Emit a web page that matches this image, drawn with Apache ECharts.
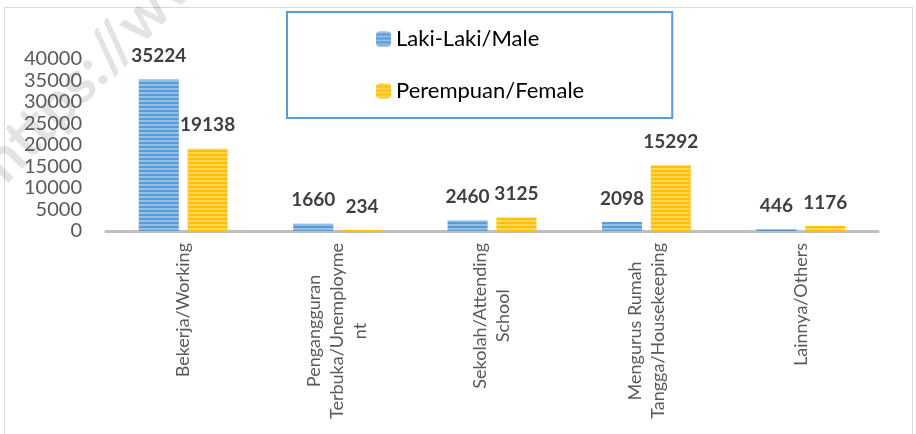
<!DOCTYPE html>
<html>
<head>
<meta charset="utf-8">
<script src="https://cdn.jsdelivr.net/npm/echarts@6/dist/echarts.min.js"></script>
<style>
  html,body{margin:0;padding:0;background:#fff;}
  #main{width:916px;height:434px;}
</style>
</head>
<body>
<div id="main"></div>
<script>
var categories = ['Bekerja/Working', 'Pengangguran\nTerbuka/Unemployme\nnt', 'Sekolah/Attending\nSchool', 'Mengurus Rumah\nTangga/Housekeeping', 'Lainnya/Others'];
var male = [35224, 1660, 2460, 2098, 446];
var female = [19138, 234, 3125, 15292, 1176];
var yTicks = [0, 5000, 10000, 15000, 20000, 25000, 30000, 35000, 40000];

var myChart = echarts.init(document.getElementById('main'));

var stripes = {
  symbol: 'rect',
  symbolSize: 1,
  dashArrayX: [[1, 0]],
  dashArrayY: [2, 1.6],
  color: 'rgba(255,255,255,0.35)'
};

var valueLabel = {
  show: true,
  position: 'top',
  distance: 14,
  fontFamily: 'Lato',
  fontWeight: 'bold',
  fontSize: 19,
  color: '#404040'
};

var option = {
  animation: false,
  textStyle: {fontFamily: 'Lato'},
  graphic: [
    {
      type: 'rect', z: -10,
      shape: {x: 4.5, y: 7.5, width: 908, height: 440},
      style: {fill: '#fff', stroke: '#D9D9D9', lineWidth: 1}
    },
    {
      type: 'text', z: -5, x: -8, y: 172, rotation: 0.8,
      style: {text: 'https://www', fontFamily: 'Lato', fontWeight: 'bold', fontSize: 60, fill: 'rgba(0,0,0,0.11)', textVerticalAlign: 'middle'}
    }
  ],
  grid: {left: 106, right: 38, top: 59, bottom: 203},
  legend: {
    orient: 'vertical',
    left: 287,
    top: 12,
    padding: [16, 88, 16, 89],
    borderColor: '#5B9BD5',
    borderWidth: 2,
    itemWidth: 15,
    itemHeight: 15,
    itemGap: 30,
    textStyle: {fontFamily: 'Lato', fontSize: 22, color: '#000', lineHeight: 22},
    data: ['Laki-Laki/Male', 'Perempuan/Female']
  },
  xAxis: {
    type: 'category',
    data: categories,
    axisLine: {lineStyle: {color: '#BFBFBF', width: 3}},
    axisTick: {show: false},
    axisLabel: {
      rotate: 90,
      interval: 0,
      margin: 12,
      color: '#595959',
      fontSize: 18,
      lineHeight: 23,
      formatter: function (v) {
        return v.split('\n').map(function (s) { return '{c|' + s + '}'; }).join('\n');
      },
      rich: {c: {align: 'center', fontSize: 18, lineHeight: 23, color: '#595959', fontFamily: 'Lato'}}
    }
  },
  yAxis: {
    type: 'value',
    min: yTicks[0],
    max: yTicks[yTicks.length - 1],
    interval: 5000,
    axisLine: {show: false},
    axisTick: {show: false},
    splitLine: {show: false},
    axisLabel: {
      margin: 24, color: '#595959', fontSize: 20, fontFamily: 'Lato',
      formatter: function (v) { return String(v); }
    }
  },
  series: [
    {
      name: 'Laki-Laki/Male',
      type: 'bar',
      barWidth: 40,
      barGap: '22%',
      data: male,
      itemStyle: {color: '#5B9BD5', decal: stripes},
      label: valueLabel
    },
    {
      name: 'Perempuan/Female',
      type: 'bar',
      barWidth: 40,
      data: female,
      itemStyle: {color: '#FFC000', decal: stripes},
      label: valueLabel
    }
  ]
};

myChart.setOption(option);
</script>
</body>
</html>
